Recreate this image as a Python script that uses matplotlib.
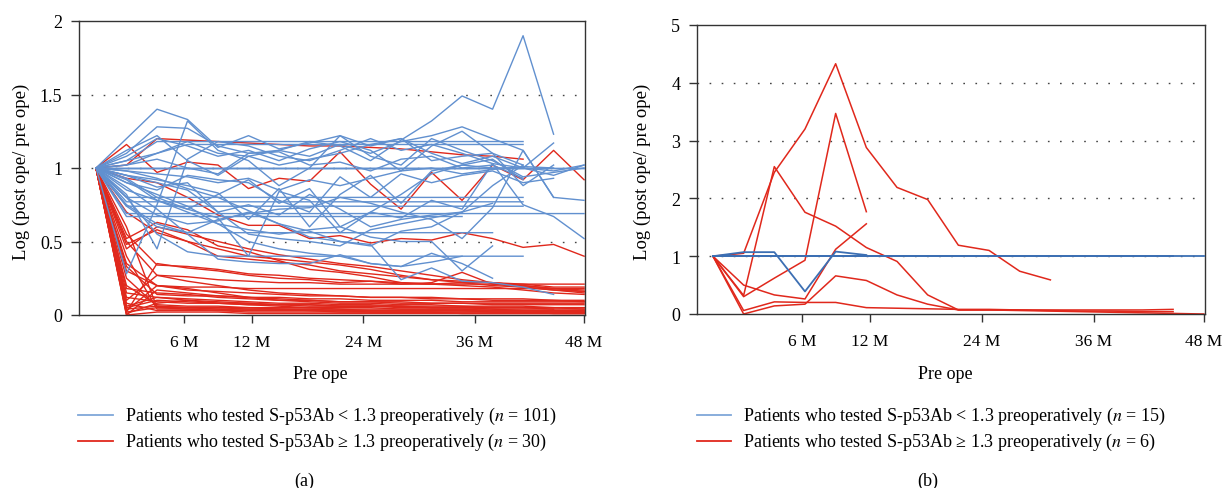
import matplotlib
matplotlib.use("Agg")
import matplotlib.pyplot as plt
from matplotlib.lines import Line2D
import numpy as np

plt.rcParams['font.family'] = ['Liberation Serif', 'DejaVu Serif']
plt.rcParams['mathtext.fontset'] = 'stix'

N = None

# x positions: one visit every 3 months, index 0 = pre ope, index 16 = 48 M
visits = list(range(17))
tick_pos = [2.9, 5.12, 8.76, 12.42, 16.0]
tick_labels = ['6 M', '12 M', '24 M', '36 M', '48 M']

# ---- panel (a): S-p53Ab < 1.3 (blue) ----
blue_a = [
    [1.00, 1.12, 1.22, 1.05, 0.95, 1.08, 1.12, 1.18, 1.15, 1.05, 1.19, 1.32, 1.49, 1.40, 1.90, 1.23, N],
    [1.00, 1.20, 1.40, 1.33, 1.14, 1.22, 1.13, 1.17, 1.22, 1.15, 1.20, 1.10, 1.03, 1.08, 1.00, 0.95, 1.02],
    [1.00, 1.10, 1.28, 1.27, 1.15, 1.10, 1.12, 1.08, 1.16, 1.10, 1.18, 1.22, 1.28, 1.20, 1.12, 0.80, N],
    [1.00, 0.82, 0.45, 1.06, 1.18, 1.15, 1.08, 1.05, 1.12, 1.20, 1.12, 1.16, 1.10, 1.03, 1.00, 1.17, N],
    [1.00, 0.28, 0.75, 1.32, 1.12, 1.05, 0.88, 1.00, 1.22, 1.08, 1.02, 1.20, 1.12, 1.05, 0.94, 0.97, 1.00],
    [1.00, 1.08, 1.20, 1.15, 1.08, 1.12, 1.05, 1.13, 1.18, 1.12, 0.98, 1.15, 1.25, 1.10, 1.02, N, N],
    [1.00, 1.05, 1.10, 1.18, 1.10, 1.08, 1.02, 1.06, 1.10, 1.16, 1.20, 1.05, 1.08, 1.10, 0.88, 1.02, N],
    [1.00, 0.95, 0.92, 0.88, 0.83, 0.65, 0.86, 0.60, 0.82, 0.95, 0.76, 0.98, 1.02, 1.00, 1.00, 0.98, 1.02],
    [1.00, 0.92, 0.78, 0.72, 0.66, 0.40, 0.84, 0.78, 0.56, 0.70, 0.66, 0.78, 0.72, 1.03, 0.75, 0.67, 0.52],
    [1.00, 0.98, 0.93, 0.86, 0.80, 0.71, 0.62, 0.53, 0.50, 0.47, 0.57, 0.60, 0.70, 0.88, 1.02, N, N],
    [1.00, 0.90, 0.82, 0.74, 0.62, 0.50, 0.45, 0.42, 0.40, 0.35, 0.33, 0.42, 0.35, 0.25, N, N, N],
    [1.00, 0.87, 0.72, 0.55, 0.38, 0.36, 0.35, 0.35, 0.41, 0.35, 0.33, 0.36, 0.40, N, N, N, N],
    [1.00, 0.80, 0.68, 0.62, 0.64, 0.70, 0.62, 0.57, 0.50, 0.48, 0.24, 0.32, 0.23, 0.22, 0.19, 0.14, N],
    [1.00, 0.85, 0.78, 0.70, 0.62, 0.58, 0.55, 0.58, 0.60, 0.53, 0.50, 0.50, 0.30, 0.47, N, N, N],
    [1.00, 0.74, 0.60, 0.56, 0.65, 0.69, 0.72, 0.73, 0.80, 0.76, 0.70, 0.65, 0.52, 0.73, 1.12, 0.80, 0.78],
    [1.00, 0.98, 0.96, 0.94, 0.90, 0.93, 0.85, 0.92, 0.88, 0.93, 0.98, 1.00, 0.96, 0.99, 1.01, 1.00, N],
    [1.00, 0.95, 0.87, 0.90, 0.70, 0.75, 0.68, 0.82, 0.72, 0.60, 0.65, 0.68, 0.70, N, N, N, N],
    [1.00, 1.02, 1.06, 1.00, 0.96, 1.10, 1.11, 1.02, 1.04, 0.98, 1.06, 1.08, 1.00, 1.02, 0.93, N, N],
    [1.00, 0.90, 0.85, 0.95, 0.92, 0.90, 0.78, 0.70, 0.94, 0.80, 0.96, 0.90, 0.95, 0.98, 0.90, 0.93, N],
    [1.00, 0.93, 0.80, 0.72, 0.82, 0.92, 0.76, 0.86, 0.60, 0.70, 0.82, 0.96, 1.02, 1.06, 0.92, N, N],
    [1.00, 0.95, 0.90, 0.85, 0.70, 0.55, 0.52, 0.50, 0.47, 0.58, 0.62, 0.66, 0.70, 0.76, N, N, N],
    [1.00, 1.05, 1.18, 1.18, 1.18, 1.18, 1.18, 1.18, 1.18, 1.18, 1.18, 1.18, 1.18, 1.18, 1.18, N, N],
    [1.00, 1.02, 1.10, 1.16, 1.16, 1.16, 1.16, 1.16, 1.16, 1.16, 1.16, 1.16, 1.16, 1.16, 1.16, N, N],
    [1.00, 0.80, 0.80, 0.80, 0.80, 0.80, 0.80, 0.80, 0.80, 0.80, 0.80, 0.80, 0.80, 0.80, 0.80, N, N],
    [1.00, 0.77, 0.77, 0.77, 0.77, 0.77, 0.77, 0.77, 0.77, 0.77, 0.77, 0.77, 0.77, 0.77, 0.77, N, N],
    [1.00, 0.74, 0.74, 0.74, 0.74, 0.74, 0.74, 0.74, 0.74, 0.74, 0.74, 0.74, 0.74, 0.74, 0.74, N, N],
    [1.00, 0.69, 0.69, 0.69, 0.69, 0.69, 0.69, 0.69, 0.69, 0.69, 0.69, 0.69, 0.69, 0.69, 0.69, 0.69, 0.69],
    [1.00, 0.67, 0.67, 0.67, 0.67, 0.67, 0.67, 0.67, 0.67, 0.67, 0.67, 0.67, 0.67, N, N, N, N],
    [1.00, 0.75, 0.62, 0.56, 0.56, 0.56, 0.56, 0.56, 0.56, 0.56, 0.56, 0.56, 0.56, 0.56, N, N, N],
    [1.00, 0.80, 0.55, 0.43, 0.40, 0.40, 0.40, 0.40, 0.40, 0.40, 0.40, 0.40, 0.40, 0.40, 0.40, N, N],
    [1.00, 1.00, 1.00, 1.00, 1.00, 1.00, 1.00, 1.00, 1.00, 1.00, 1.00, 1.00, 1.00, 1.00, 1.00, 1.00, 1.00],
    [1.00, 1.00, 1.00, 1.00, 1.00, 1.00, 1.00, 1.00, 1.00, 1.00, 1.00, 1.00, 1.00, 1.00, 1.00, 1.00, 1.00],
    [1.00, 1.00, 1.00, 1.00, 1.00, 1.00, 1.00, 1.00, 1.00, 1.00, 1.00, 1.00, 1.00, 1.00, 1.00, N, N],
]

# ---- panel (a): S-p53Ab >= 1.3 (red) ----
red_a = [
    [1.00, 1.16, 0.97, 1.04, 1.02, 0.86, 0.93, 0.91, 1.11, 0.89, 0.72, 0.97, 0.78, 1.02, 0.92, 1.12, 0.92],
    [1.00, 1.02, 1.20, 1.19, 1.18, 1.17, 1.16, 1.15, 1.15, 1.14, 1.13, 1.11, 1.09, 1.08, 1.06, N, N],
    [1.00, 0.93, 0.90, 0.80, 0.68, 0.61, 0.61, 0.52, 0.54, 0.49, 0.52, 0.51, 0.56, 0.52, 0.46, 0.48, 0.40],
    [1.00, 0.52, 0.63, 0.58, 0.47, 0.43, 0.37, 0.31, 0.29, 0.26, 0.22, 0.21, 0.22, 0.22, 0.20, 0.18, 0.17],
    [1.00, 0.45, 0.60, 0.55, 0.50, 0.45, 0.41, 0.38, 0.35, 0.33, 0.30, 0.27, 0.24, 0.22, 0.20, 0.18, 0.16],
    [1.00, 0.02, 0.35, 0.32, 0.30, 0.27, 0.25, 0.24, 0.22, 0.23, 0.21, 0.22, 0.29, 0.21, 0.19, 0.17, 0.16],
    [1.00, 0.50, 0.27, 0.26, 0.24, 0.23, 0.22, 0.22, 0.21, 0.21, 0.21, 0.21, 0.21, 0.21, 0.21, 0.21, 0.21],
    [1.00, 0.30, 0.20, 0.19, 0.19, 0.18, 0.18, 0.18, 0.18, 0.18, 0.18, 0.18, 0.18, 0.18, 0.18, 0.18, 0.18],
    [1.00, 0.10, 0.27, 0.23, 0.20, 0.17, 0.15, 0.14, 0.13, 0.12, 0.12, 0.11, 0.11, 0.10, 0.10, 0.10, 0.09],
    [1.00, 0.35, 0.20, 0.17, 0.16, 0.15, 0.14, 0.13, 0.13, 0.12, 0.12, 0.12, 0.11, 0.11, 0.11, 0.10, 0.10],
    [1.00, 0.00, 0.17, 0.15, 0.13, 0.12, 0.11, 0.10, 0.09, 0.09, 0.08, 0.08, 0.08, 0.07, 0.07, 0.07, 0.07],
    [1.00, 0.05, 0.10, 0.09, 0.08, 0.08, 0.07, 0.07, 0.06, 0.06, 0.06, 0.05, 0.05, 0.05, 0.05, 0.05, 0.05],
    [1.00, 0.20, 0.07, 0.06, 0.06, 0.05, 0.05, 0.05, 0.04, 0.04, 0.04, 0.04, 0.04, 0.04, 0.03, 0.03, 0.03],
    [1.00, 0.60, 0.05, 0.05, 0.04, 0.04, 0.04, 0.03, 0.03, 0.03, 0.03, 0.03, 0.03, 0.02, 0.02, 0.02, 0.02],
    [1.00, 0.40, 0.04, 0.04, 0.03, 0.03, 0.03, 0.03, 0.02, 0.02, 0.02, 0.02, 0.02, 0.02, 0.02, 0.01, 0.01],
    [1.00, 0.01, 0.08, 0.10, 0.08, 0.07, 0.06, 0.05, 0.05, 0.05, 0.04, 0.04, 0.04, 0.03, 0.03, 0.03, 0.03],
    [1.00, 0.15, 0.12, 0.11, 0.10, 0.09, 0.08, 0.08, 0.07, 0.07, 0.06, 0.06, 0.06, 0.05, 0.05, 0.05, 0.04],
    [1.00, 0.03, 0.20, 0.18, 0.15, 0.12, 0.10, 0.09, 0.08, 0.08, 0.07, 0.07, 0.06, 0.06, 0.06, 0.05, 0.05],
    [1.00, 0.25, 0.06, 0.05, 0.05, 0.05, 0.04, 0.04, 0.04, 0.03, 0.03, 0.03, 0.03, 0.03, 0.03, 0.03, 0.02],
    [1.00, 0.08, 0.03, 0.03, 0.03, 0.02, 0.02, 0.02, 0.02, 0.02, 0.02, 0.02, 0.01, 0.01, 0.01, 0.01, 0.01],
    [1.00, 0.55, 0.34, 0.33, 0.31, 0.28, 0.27, 0.25, 0.24, 0.23, 0.22, 0.21, 0.20, 0.19, 0.17, 0.15, 0.14],
    [1.00, 0.70, 0.56, 0.50, 0.45, 0.40, 0.38, 0.36, 0.34, 0.31, 0.27, 0.24, 0.22, 0.20, 0.19, 0.17, 0.15],
    [1.00, 0.12, 0.09, 0.08, 0.08, 0.07, 0.07, 0.06, 0.06, 0.06, 0.06, 0.05, 0.05, 0.05, 0.05, 0.04, 0.04],
    [1.00, 0.02, 0.05, 0.04, 0.04, 0.03, 0.03, 0.03, 0.03, 0.02, 0.02, 0.02, 0.02, 0.02, 0.02, 0.02, 0.02],
    [1.00, 0.06, 0.12, 0.10, 0.09, 0.08, 0.07, 0.07, 0.06, 0.06, 0.05, 0.05, 0.05, 0.04, 0.04, 0.04, N],
    [1.00, 0.18, 0.15, 0.14, 0.12, 0.11, 0.10, 0.10, 0.09, 0.09, 0.09, 0.08, 0.08, 0.08, 0.08, 0.08, 0.08],
    [1.00, 0.00, 0.02, 0.02, 0.02, 0.01, 0.01, 0.01, 0.01, 0.01, 0.01, 0.01, 0.01, 0.01, 0.01, 0.01, 0.01],
    [1.00, 0.04, 0.06, 0.05, 0.05, 0.04, 0.04, 0.04, 0.03, 0.03, 0.03, 0.03, 0.03, 0.03, 0.03, 0.02, 0.02],
    [1.00, 0.48, 0.58, 0.50, 0.40, 0.38, 0.36, 0.34, 0.30, 0.28, 0.26, 0.24, 0.23, 0.22, 0.21, 0.19, 0.19],
    [1.00, 0.33, 0.14, 0.13, 0.13, 0.12, 0.12, 0.11, 0.11, 0.10, 0.10, 0.10, 0.09, 0.09, 0.09, 0.09, 0.09],
]

# ---- panel (b): S-p53Ab < 1.3 (blue) ----
blue_b = [
    [1.00, 1.07, 1.07, 0.39, 1.08, 1.02, N, N, N, N, N, N, N, N, N, N, N],
    [1.00, 1.00, 1.00, 1.00, 1.00, 1.00, 1.00, 1.00, 1.00, 1.00, 1.00, 1.00, 1.00, 1.00, 1.00, 1.00, 1.00],
    [1.00, 1.00, 1.00, 1.00, 1.00, 1.00, 1.00, 1.00, 1.00, 1.00, 1.00, 1.00, 1.00, 1.00, 1.00, 1.00, N],
    [1.00, 1.00, 1.00, 1.00, 1.00, 1.00, 1.00, 1.00, 1.00, 1.00, 1.00, 1.00, N, N, N, N, N],
    [1.00, 1.00, 1.00, 1.00, 1.00, 1.00, 1.00, 1.00, 1.00, N, N, N, N, N, N, N, N],
]

# ---- panel (b): S-p53Ab >= 1.3 (red) ----
red_b = [
    [1.00, 1.05, 2.45, 3.20, 4.33, 2.88, 2.19, 1.98, 1.19, 1.10, 0.74, 0.59, N, N, N, N, N],
    [1.00, 0.32, 2.55, 1.76, 1.52, 1.15, 0.91, 0.33, 0.07, 0.07, 0.07, 0.07, 0.07, 0.07, 0.07, 0.08, N],
    [1.00, 0.30, 0.62, 0.93, 3.47, 1.77, N, N, N, N, N, N, N, N, N, N, N],
    [1.00, 0.50, 0.33, 0.26, 1.12, 1.56, N, N, N, N, N, N, N, N, N, N, N],
    [1.00, 0.06, 0.21, 0.20, 0.20, 0.11, 0.10, 0.09, 0.08, 0.08, 0.07, 0.06, 0.05, 0.05, 0.04, 0.04, N],
    [1.00, 0.00, 0.14, 0.17, 0.66, 0.58, 0.33, 0.17, 0.07, 0.07, 0.06, 0.05, 0.04, 0.03, 0.02, 0.01, 0.00],
]

BLUE_A = '#6190cf'
BLUE_B = '#3c6fb3'
RED = '#e0281c'
SPINE = '#333333'


def style_axes(ax, ylim, yticks, grid_levels, xlim):
    ax.set_xlim(*xlim)
    ax.set_ylim(*ylim)
    ax.set_yticks(yticks)
    ax.set_yticklabels([f'{t:g}' for t in yticks])
    ax.set_xticks(tick_pos)
    ax.set_xticklabels(tick_labels)
    for s in ax.spines.values():
        s.set_color(SPINE)
        s.set_linewidth(1.0)
    ax.tick_params(axis='y', direction='out', length=6, width=1.0, color=SPINE,
                   pad=6, labelsize=13)
    ax.tick_params(axis='x', direction='out', length=6, width=1.0, color=SPINE,
                   pad=8, labelsize=12.5)
    for g in grid_levels:
        ax.axhline(g, color='#444444', lw=1.0, linestyle=(0, (1.2, 7.5)), zorder=0)


fig = plt.figure(figsize=(12.23, 4.89), dpi=100)
ax1 = fig.add_axes([79 / 1223, 1 - 316 / 489, 506 / 1223, 294 / 489])
ax2 = fig.add_axes([697 / 1223, 1 - 315 / 489, 508 / 1223, 289 / 489])

for s in red_a:
    ax1.plot(visits, np.array(s, dtype=float), color=RED, lw=1.0, zorder=2)
for s in blue_a:
    ax1.plot(visits, np.array(s, dtype=float), color=BLUE_A, lw=1.0, zorder=3)
style_axes(ax1, (0, 2), [0, 0.5, 1, 1.5, 2], [0.5, 1.0, 1.5], (-0.557, 16.03))

for s in blue_b:
    ax2.plot(visits, np.array(s, dtype=float), color=BLUE_B, lw=1.3, zorder=3)
for s in red_b:
    ax2.plot(visits, np.array(s, dtype=float), color=RED, lw=1.1, zorder=2)
style_axes(ax2, (0, 5), [0, 1, 2, 3, 4, 5], [1, 2, 3, 4], (-0.52, 16.04))

# axis titles
for x in (21, 642):
    fig.text(x / 1223, 1 - 172 / 489, 'Log (post ope/ pre ope)', rotation=90,
             ha='center', va='center', fontsize=13.5)
fig.text(320 / 1223, 1 - 375 / 489, 'Pre ope', ha='center', va='center', fontsize=13)
fig.text(945 / 1223, 1 - 375 / 489, 'Pre ope', ha='center', va='center', fontsize=13)

# legends
legend_rows = [
    (78, 113, 125, 'Patients who tested S-p53Ab < 1.3 preoperatively ($n$ = 101)',
     'Patients who tested S-p53Ab \u2265 1.3 preoperatively ($n$ = 30)'),
    (697, 731, 743, 'Patients who tested S-p53Ab < 1.3 preoperatively ($n$ = 15)',
     'Patients who tested S-p53Ab \u2265 1.3 preoperatively ($n$ = 6)'),
]
for x0, x1, xt, lab_blue, lab_red in legend_rows:
    for y, col, lab in ((416, '#7fa7d9', lab_blue), (442, RED, lab_red)):
        yf = 1 - y / 489
        fig.add_artist(Line2D([x0 / 1223, x1 / 1223], [yf, yf], color=col, lw=1.3))
        fig.text(xt / 1223, yf, lab, ha='left', va='center', fontsize=13)

fig.text(304 / 1223, 1 - 481 / 489, '(a)', ha='center', va='center', fontsize=13)
fig.text(928 / 1223, 1 - 481 / 489, '(b)', ha='center', va='center', fontsize=13)

fig.savefig('out.png', dpi=100)
